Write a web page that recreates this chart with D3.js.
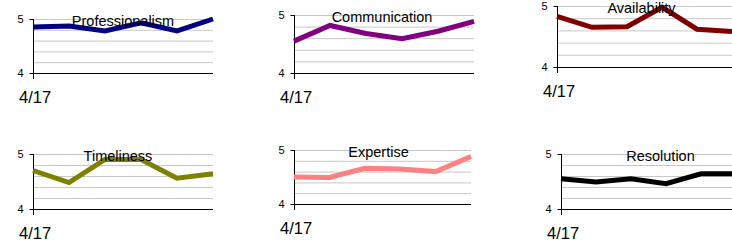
<!DOCTYPE html>
<html>
<head>
<meta charset="utf-8"/>
<script src="https://cdn.jsdelivr.net/npm/d3@7/dist/d3.min.js"></script>
<style>
  body { margin:0; background:#fff; }
  svg { display:block; font-family:"Liberation Sans", Arial, sans-serif; }
</style>
</head>
<body>
<script>
// data
var titles = ["Professionalism","Communication","Availability","Timeliness","Expertise","Resolution"];
var colors = ["#000080","#800080","#800000","#808000","#ff8080","#000000"];
var firstLabel = "4/17";
var yTicks = [4, 5];
var gridTicks = [4.2, 4.4, 4.6, 4.8, 5];

var professionalism = [4.85, 4.87, 4.78, 4.93, 4.78, 5.0];
var communication   = [4.55, 4.82, 4.68, 4.59, 4.72, 4.89];
var availability    = [4.83, 4.65, 4.66, 4.98, 4.62, 4.58];
var timeliness      = [4.70, 4.48, 4.90, 4.90, 4.56, 4.64];
var expertise       = [4.50, 4.49, 4.66, 4.65, 4.60, 4.88];
var resolution      = [4.55, 4.49, 4.55, 4.46, 4.64, 4.64];
var series = [professionalism, communication, availability, timeliness, expertise, resolution];

// panel boxes (left, right, top=5, bottom=4) and title tweak
var boxes = [
  {x0:33,  x1:213, y5:19,  y4:73,  tdx:0},
  {x0:294, x1:474, y5:15,  y4:73,  tdx:-2},
  {x0:557, x1:732, y5:6,   y4:67,  tdx:-3},
  {x0:33,  x1:213, y5:154, y4:209, tdx:-5},
  {x0:294, x1:471, y5:150, y4:204, tdx:-4},
  {x0:561, x1:736, y5:154, y4:209, tdx:12}
];

var svg = d3.select("body").append("svg").attr("width",732).attr("height",244);

series.forEach(function(vals, k){
  var b = boxes[k];
  var x = d3.scaleLinear().domain([0, vals.length-1]).range([b.x0, b.x1]);
  var y = d3.scaleLinear().domain([4,5]).range([b.y4, b.y5]);
  var g = svg.append("g");

  // gridlines
  var grid = g.append("g").attr("transform","translate("+b.x0+",0)")
    .call(d3.axisLeft(y).tickValues(gridTicks).tickSize(-(b.x1-b.x0)).tickFormat(""));
  grid.select(".domain").remove();
  grid.selectAll("line").attr("stroke","#c8c8c8").attr("stroke-width",1);

  // bottom axis line
  g.append("line").attr("x1",b.x0).attr("x2",b.x1)
    .attr("y1",y(4)+0.5).attr("y2",y(4)+0.5)
    .attr("stroke","#000").attr("stroke-width",1);

  // left axis
  var ya = g.append("g").attr("transform","translate("+(b.x0+0.5)+",0)")
    .call(d3.axisLeft(y).tickValues(yTicks).tickSize(4).tickPadding(6).tickFormat(d3.format("d")));
  ya.select(".domain").attr("d","M0,"+y(5)+"V"+(y(4)+6)).attr("stroke","#000");
  ya.selectAll("line").attr("stroke","#000");
  ya.selectAll("text").attr("font-size","11px").attr("fill","#000")
    .attr("font-family","Liberation Sans, Arial, sans-serif");

  // line
  g.append("path").datum(vals)
    .attr("fill","none").attr("stroke",colors[k]).attr("stroke-width",5)
    .attr("d", d3.line().x(function(d,i){return x(i);}).y(function(d){return y(d);}));

  // title
  g.append("text").attr("x",(b.x0+b.x1)/2+b.tdx).attr("y",b.y5+6.5)
    .attr("text-anchor","middle").attr("font-size","14.5px").attr("fill","#000")
    .text(titles[k]);

  // first category label
  g.append("text").attr("x",b.x0-14).attr("y",y(4)+30)
    .attr("font-size","16.5px").attr("fill","#000").text(firstLabel);
});
</script>
</body>
</html>
